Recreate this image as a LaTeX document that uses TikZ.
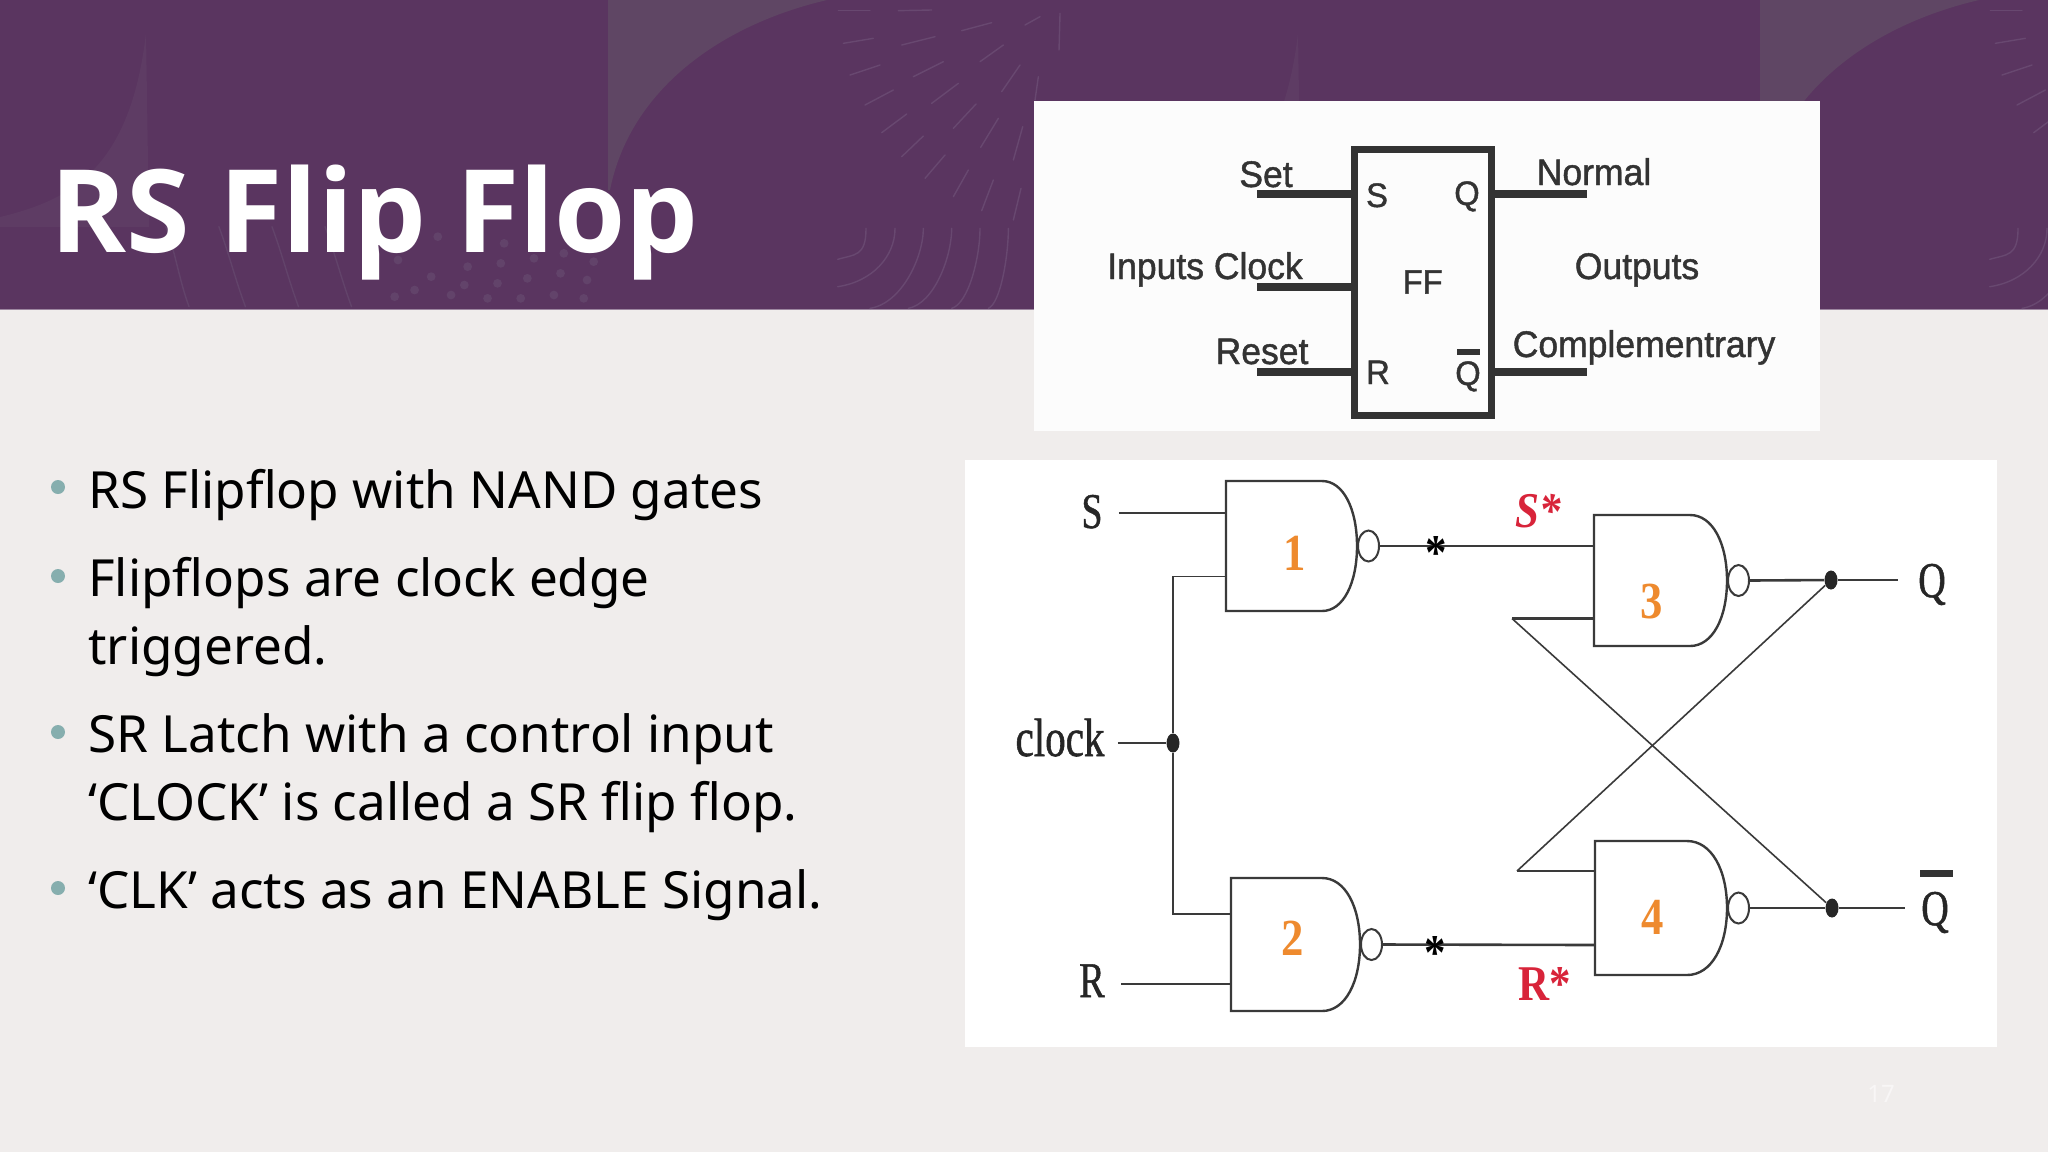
\documentclass[tikz,border=0pt]{standalone}
\usepackage{fontspec}
\usetikzlibrary{shapes.geometric}
\setmainfont{Noto Sans}
\newfontfamily\titlefont{Open Sans}
\newfontfamily\ffont[FakeBold=1.2,FakeStretch=0.96]{Liberation Sans}
\newfontfamily\wirefont[FakeStretch=0.76,FakeBold=1]{Liberation Serif}
\newfontfamily\markfont[FakeStretch=0.86]{Liberation Serif}
\newcommand{\fsz}[1]{\fontsize{#1}{#1}\selectfont}
\definecolor{plum}{HTML}{5A3560}
\definecolor{plumlight}{HTML}{5F4664}
\definecolor{plumsoft}{HTML}{5E3C64}
\definecolor{plumdeco}{HTML}{684870}
\definecolor{plumfaint}{HTML}{62436A}
\definecolor{slide}{HTML}{F0EDEC}
\definecolor{ink}{HTML}{333333}
\definecolor{wirecol}{HTML}{3A3A3A}
\definecolor{bul}{HTML}{86AEAE}
\definecolor{markred}{HTML}{D8243A}
\definecolor{markor}{HTML}{EE8A2E}
% name, left, top, bottom, flat end, right
\newcommand{\nandgate}[6]{
  \pgfmathsetmacro\gmid{(#3+#4)/2}
  \pgfmathsetmacro\ga{#5+.62*(#6-#5)}
  \pgfmathsetmacro\gb{#3+.22*(#4-#3)}
  \pgfmathsetmacro\gc{#3+.78*(#4-#3)}
  \draw[gate body] (#2,#3) -- (#5,#3) .. controls (\ga,#3) and (#6,\gb) .. (#6,\gmid)
    .. controls (#6,\gc) and (\ga,#4) .. (#5,#4) -- (#2,#4) -- cycle;
  \node[bubble] (#1o) at (#6,\gmid) {};
}
\begin{document}
\begin{tikzpicture}[x=.5pt,y=-.5pt,
  title node/.style={anchor=base west,inner sep=0,text=white,font=\titlefont\fsz{57.6pt}\bfseries},
  body node/.style={anchor=base west,inner sep=0,align=left,text=black,font=\fontsize{25.6pt}{34pt}\selectfont},
  bullet node/.style={circle,fill=bul,inner sep=0,minimum size=7pt},
  deco/.style={draw=plumdeco,line width=.7pt,line cap=round},
  ff box/.style={draw=ink,line width=3.5pt,minimum width=68.3pt,minimum height=133pt,inner sep=0,
    text=ink,font=\ffont\fsz{17pt}},
  ff line/.style={draw=ink,line width=3.6pt},
  ff text/.style={anchor=base,inner sep=0,text=ink,font=\ffont\fsz{18.5pt}},
  ff pin/.style={anchor=base,inner sep=0,text=ink,font=\ffont\fsz{17pt}},
  gate body/.style={draw=wirecol,line width=1.2pt,fill=white},
  bubble/.style={ellipse,draw=wirecol,line width=1pt,fill=white,anchor=west,inner sep=0,
    minimum width=10.5pt,minimum height=15.5pt},
  wire/.style={draw=wirecol,line width=1.3pt},
  thin wire/.style={draw=wirecol,line width=.8pt},
  dot/.style={ellipse,fill=black!85,inner sep=0,minimum width=6.5pt,minimum height=9.5pt},
  sig/.style={anchor=base,inner sep=0,text=black!85,font=\wirefont\fsz{25pt}},
  star mark/.style={inner sep=0,text=black,font=\bfseries\markfont\fsz{25pt}},
  num mark/.style={anchor=base,inner sep=0,text=markor,font=\bfseries\markfont\fsz{26pt}},
  red mark/.style={anchor=base,inner sep=0,text=markred,font=\bfseries\markfont\fsz{25pt}}]

  \useasboundingbox (0,0) rectangle (2048,1152);
  \fill[slide] (0,0) rectangle (2048,1152);
  \fill[plum] (0,0) rectangle (2048,309);
  \draw[draw=plum!60!white,line width=.5pt] (0,309.5) -- (2048,309.5);

  % header pattern, repeats once
  \begin{scope}
    \clip (0,0) rectangle (2048,309);
    \foreach \tile in {0,1152} {
      \fill[plumlight,shift={(\tile,0)}] (608,0) -- (827,0) .. controls (720,25) and (630,90) .. (610,190) -- (608,190) -- cycle;
      \fill[plumsoft,shift={(\tile,0)}] (0,217) .. controls (70,200) and (130,170) .. (146,33) -- (149,227) -- (0,227) -- cycle;
      \begin{scope}[shift={(560+\tile,0)},x=.16667pt,y=-.16667pt]
        \foreach \a/\b/\c/\d in {835/32/930/32,1015/32/1115/30,850/130/940/115,1025/135/1125/110,
          1205/92/1295/68,1395/75/1440/50,870/225/960/195,1060/230/1150/185,1260/185/1330/135,
          915/315/1000/270,1115/310/1195/250,1325/275/1380/195,965/398/1040/342,1180/385/1248/312,
          1025/470/1090/408,1262/442/1315/355,1095/535/1155/465,1360/480/1388/380,1180/590/1225/510,
          1265/632/1300/540,1360/660/1383/565,1497/150/1500/40,1425/300/1435/230}
          \draw[deco] (\a,\b) -- (\c,\d);
        \foreach \a/\b/\c in {833/778/918,833/860/1005,930/925/1090,1045/925/1175,1175/925/1260,1285/925/1345}
          \draw[deco] (\a,\b) .. controls ({\a+.6*(\c-\a)},\b-15) and (\c,770) .. (\c,685);
      \end{scope}
      \begin{scope}[shift={(\tile,0)},x=.33167pt,y=-.16667pt]
        \foreach \a/\b in {250/285,330/370,410/450,490/530}
          \draw[deco,draw=plumfaint] (\a,680) .. controls (\a+15,760) and (\b-15,840) .. (\b,920);
        \foreach \a/\b in {660/710,760/730,600/780,705/800,755/790,805/775,850/760,895/785,650/830,
          700/855,750/850,795/835,845/820,885/840,595/890,625/870,680/885,735/895,785/895,835/885,880/895}
          \fill[plumfaint] (\a,\b) circle[radius=2.2pt];
      \end{scope}
    }
  \end{scope}

  \node[title node] (title) at (50,252) {RS Flip Flop};

  \node[bullet node] (b1) at (58,487) {};
  \node[bullet node] (b2) at (58,576) {};
  \node[bullet node] (b3) at (58,732) {};
  \node[bullet node] (b4) at (58,888) {};
  \node[body node] (t1) at (88,508) {RS Flipflop with NAND gates};
  \node[body node] (t2) at (88,664) {Flipflops are clock edge\\triggered.};
  \node[body node] (t3) at (88,820) {SR Latch with a control input\\‘CLOCK’ is called a SR flip flop.};
  \node[body node] (t4) at (88,908) {‘CLK’ acts as an ENABLE Signal.};
  \node[anchor=base,inner sep=0,text=white!50!slide,font=\fsz{12pt}] (pg) at (1881,1102) {17};

  % flip flop symbol
  \fill[white!99!black] (1034,100.5) rectangle (1820,431);
  \node[ff box] (ff) at (1422.7,282) {FF};
  \coordinate (inS) at (1257,194);
  \coordinate (inC) at (1257,287);
  \coordinate (inR) at (1257,372);
  \coordinate (outQ) at (1587,194);
  \coordinate (outN) at (1587,372);
  \draw[ff line] (inS) -- (ff.west |- inS);
  \draw[ff line] (inC) -- (ff.west |- inC);
  \draw[ff line] (inR) -- (ff.west |- inR);
  \draw[ff line] (ff.east |- outQ) -- (outQ);
  \draw[ff line] (ff.east |- outN) -- (outN);
  \node[ff text] (set) at (1266,187) {Set};
  \node[ff text] (inclk) at (1205,279) {Inputs Clock};
  \node[ff text] (reset) at (1262,364) {Reset};
  \node[ff text] (normal) at (1594,185) {Normal};
  \node[ff text] (outs) at (1637,279) {Outputs};
  \node[ff text] (compl) at (1644,357) {Complementrary};
  \node[ff pin] (pinS) at (1377,207) {S};
  \node[ff pin] (pinQ) at (1467,205) {Q};
  \node[ff pin] (pinR) at (1378,384) {R};
  \node[ff pin] (pinN) at (1468,385) {Q};
  \node[fill=ink,inner sep=0,minimum width=11.5pt,minimum height=3pt] (barN) at (1468.5,351.5) {};

  % latch with clock
  \fill[white] (965,460) rectangle (1997,1047);
  \nandgate{g1}{1226}{481}{611}{1322}{1357}
  \nandgate{g2}{1231}{878}{1011}{1322}{1360}
  \nandgate{g3}{1594}{515}{646}{1690}{1727}
  \nandgate{g4}{1595}{841}{975}{1687}{1727}

  \coordinate (g1a) at (1226,513);
  \coordinate (g1b) at (1226,576.5);
  \coordinate (g2a) at (1231,914);
  \coordinate (g2b) at (1231,984);
  \coordinate (g3a) at (1594,546);
  \coordinate (g3b) at (1594,618.5);
  \coordinate (g4a) at (1595,871);
  \coordinate (g4b) at (1595,945);
  \coordinate (x3) at (1512,618.5);
  \coordinate (x4) at (1517,871);

  \node[sig] (S) at (1092,528) {S};
  \node[sig,font=\wirefont\fsz{27pt}] (clk) at (1060,756) {clock};
  \node[sig] (R) at (1092,997) {R};
  \node[sig] (Q) at (1932,597) {Q};
  \node[sig] (Qn) at (1935,925) {Q};
  \node[fill=ink,inner sep=0,minimum width=16.5pt,minimum height=3.2pt] (barQ) at (1936,873.5) {};

  \node[dot] (dclk) at (1173,743) {};
  \node[dot] (dq) at (1831,580) {};
  \node[dot] (dn) at (1832,908) {};

  \draw[wire,shorten <=8pt] (S.east |- g1a) -- (g1a);
  \draw[wire,shorten <=6.5pt] (clk.east |- dclk) -- (dclk);
  \draw[wire,shorten <=8pt] (R.east |- g2b) -- (g2b);
  \draw[thin wire] (g1b) -| (dclk);
  \draw[thin wire] (dclk) |- (g2a);
  \draw[wire] (g1o.east) -- (g3a);
  \draw[wire] (g2o.east) -- (g4b);
  \draw[wire] (g3o.east) -- (dq);
  \draw[wire] (g4o.east) -- (dn);
  \draw[wire,shorten >=10pt] (dq) -- (Q.west |- dq);
  \draw[wire,shorten >=8pt] (dn) -- (Qn.west |- dn);
  \draw[wire] (x3) -- (g3b);
  \draw[wire] (x4) -- (g4a);
  \draw[thin wire] (x3) -- (dn);
  \draw[thin wire] (x4) -- (dq);

  \node[star mark] (st1) at (1436,553) {*};
  \node[star mark] (st2) at (1435,953) {*};
  \node[num mark] (n1) at (1295,570) {1};
  \node[num mark] (n2) at (1293,955) {2};
  \node[num mark] (n3) at (1652,618) {3};
  \node[num mark] (n4) at (1653,934) {4};
  \node[red mark] (sstar) at (1538,527) {\itshape S*};
  \node[red mark] (rstar) at (1545,1000) {R*};
\end{tikzpicture}
\end{document}
